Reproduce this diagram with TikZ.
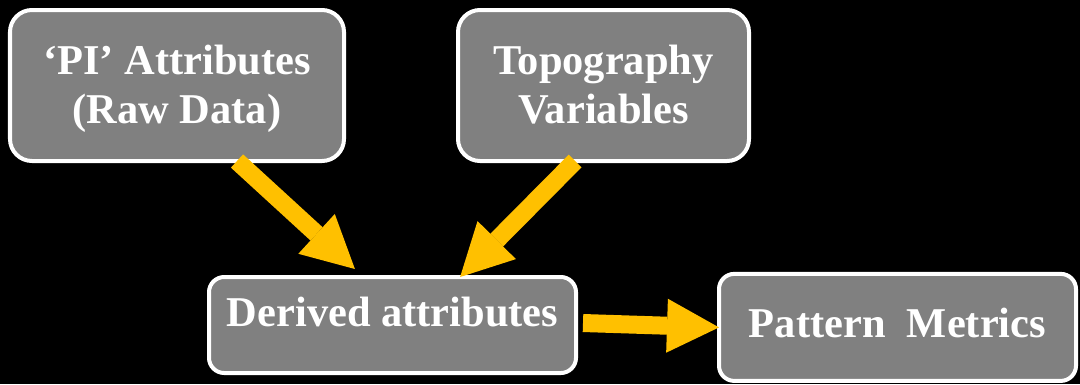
\documentclass[tikz,border=0pt]{standalone}
\usepackage{fontspec}
\setmainfont{Liberation Serif}
\usetikzlibrary{arrows.meta, positioning}
\definecolor{BoxGray}{HTML}{808080}
\definecolor{FlowGold}{HTML}{FFC000}

\begin{document}
\begin{tikzpicture}[
  box/.style={rectangle, rounded corners=0.38cm, align=center, text=white,
    font=\bfseries\fontsize{30.2pt}{35pt}\selectfont,
    draw=white, line width=0.1cm, fill=BoxGray, outer sep=0pt},
  bigbox/.style={box, rounded corners=0.55cm, minimum height=3.775cm,
    text height=1.95cm, text depth=0.03cm},
  arrow/.style={-{Triangle[length=1.3cm, width=1.35cm, line width=0pt]},
    line width=0.45cm, color=FlowGold}
]
\fill[black] (0,0) rectangle (27,-9.6);
\useasboundingbox (0,0) rectangle (27,-9.6);

\node[bigbox, minimum width=8.35cm] (raw) at (4.425,-2.1375) {‘PI’ Attributes\\(Raw Data)};
\node[bigbox, minimum width=7.275cm, right=2.85cm of raw] (topo) {Topography\\Variables};
\node[box, minimum width=9.175cm, minimum height=2.4cm, text height=0.725cm, text depth=0.65cm] (der) at (9.8125,-8.125) {Derived attributes};
\node[box, minimum width=8.925cm, minimum height=2.675cm, text height=0.725cm, text depth=0.2cm, right=3.575cm of der, yshift=-0.06cm] (pm) {Pattern\ \ Metrics};

\draw[arrow] ([xshift=1.5cm]raw.south) -- ([xshift=-0.94cm, yshift=0.2cm]der.north);
\draw[arrow] ([xshift=-0.71cm]topo.south) -- ([xshift=1.69cm]der.north);
\draw[arrow] ([xshift=0.175cm, yshift=0.05cm]der.east) -- (pm.west);
\end{tikzpicture}
\end{document}
